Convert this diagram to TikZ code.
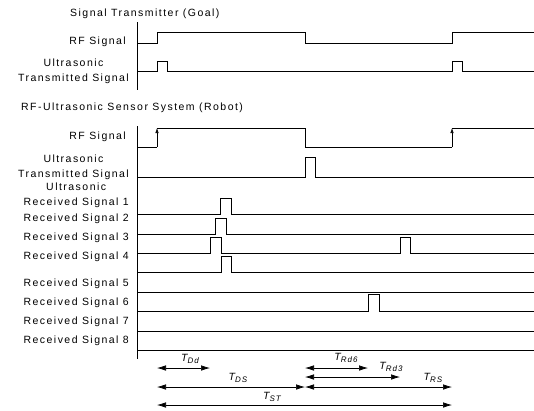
\documentclass[tikz,border=0pt]{standalone}
\usepackage{fontspec}
\setmainfont[LetterSpace=14]{Liberation Sans}
\usetikzlibrary{positioning,arrows.meta}

\newcommand{\tlab}[2]{\textit{#1\raisebox{-0.5ex}{\fontsize{8}{9}\selectfont #2}}}

\begin{document}
\begin{tikzpicture}[x=1pt,y=-1pt,
			every node/.style={
				inner sep=0pt,
				font=\fontsize{10.5}{15}\selectfont},
			lbl/.style={anchor=east,align=center},
			ttl/.style={anchor=west},
			wave/.style={line width=0.65pt},
			span/.style={{Latex[length=9pt,width=5.5pt]}-{Latex[length=9pt,width=5.5pt]},line width=0.65pt},
			edge/.style={-{Latex[length=5pt,width=3.5pt]},line width=0.65pt}]
			
			\useasboundingbox (0,0) rectangle (534,410);
			
			\node[ttl] (goal) at (70,14) {Signal Transmitter (Goal)};
			
			\draw[wave] (137,22) -- (137,90);
			
			\node[lbl] (grf) at (126,42) {RF Signal};
			\draw[wave] (137,43) -- (157,43) -- (157,32) -- (305,32) -- (305,43) -- (452,43) -- (452,32) -- (534,32);
			
			\node[lbl] (gus) at (129,71) {Ultrasonic\\Transmitted Signal};
			\draw[wave] (137,71) -- (157,71) -- (157,61) -- (167,61) -- (167,71) -- (452,71) -- (452,61) -- (462,61) -- (462,71) -- (534,71);
			
			\node[ttl] (robot) at (21,108) {RF-Ultrasonic Sensor System (Robot)};
			
			\draw[wave] (137,126) -- (137,359);
			
			\node[lbl] (rrf) at (126,137) {RF Signal};
			\draw[wave] (137,147) -- (157,147);
			\draw[edge] (157,147) -- (157,128);
			\draw[wave] (157,128) -- (305,128) -- (305,147) -- (452,147);
			\draw[edge] (452,147) -- (452,128);
			\draw[wave] (452,128) -- (534,128);
			
			\node[lbl] (rus) at (129,167) {Ultrasonic\\Transmitted Signal};
			\draw[wave] (137,177) -- (305,177) -- (305,157) -- (315,157) -- (315,177) -- (534,177);
			
			\node[lbl] (rx1) at (129,195.5) {Ultrasonic\\Received Signal 1};
			\draw[wave] (137,214) -- (220,214) -- (220,198) -- (231,198) -- (231,214) -- (534,214);
			
			\node[lbl] (rx2) at (129,219) {Received Signal 2};
			\draw[wave] (137,234) -- (215,234) -- (215,218) -- (226,218) -- (226,234) -- (534,234);
			
			\node[lbl] (rx3) at (129,238) {Received Signal 3};
			\draw[wave] (137,253) -- (210,253) -- (210,237) -- (221,237) -- (221,253) -- (400,253) -- (400,237) -- (410,237) -- (410,253) -- (534,253);
			
			\node[lbl] (rx4) at (129,257) {Received Signal 4};
			\draw[wave] (137,272) -- (221,272) -- (221,256) -- (231,256) -- (231,272) -- (534,272);
			
			\node[lbl] (rx5) at (129,284) {Received Signal 5};
			\draw[wave] (137,292) -- (534,292);
			
			\node[lbl] (rx6) at (129,303) {Received Signal 6};
			\draw[wave] (137,311) -- (368,311) -- (368,294) -- (379,294) -- (379,311) -- (534,311);
			
			\node[lbl] (rx7) at (129,322) {Received Signal 7};
			\draw[wave] (137,331) -- (534,331);
			
			\node[lbl] (rx8) at (129,341) {Received Signal 8};
			\draw[wave] (137,350) -- (534,350);
			
			\coordinate (dd1) at (157,368);
			\coordinate (dd2) at (210,368);
			\coordinate (ds1) at (157,387);
			\coordinate (ds2) at (305,387);
			\coordinate (st1) at (157,405);
			\coordinate (st2) at (452,405);
			\coordinate (r61) at (305,368);
			\coordinate (r62) at (368,368);
			\coordinate (r31) at (305,377);
			\coordinate (r32) at (400,377);
			\coordinate (rs1) at (305,387);
			\coordinate (rs2) at (452,387);
			
			\draw[span] (dd1) -- (dd2);
			\draw[span] (ds1) -- (ds2);
			\draw[span] (st1) -- (st2);
			\draw[span] (r61) -- (r62);
			\draw[span] (r31) -- (r32);
			\draw[span] (rs1) -- (rs2);
			
			\node (tdd) at (190,359) {\tlab{T}{Dd}};
			\node (tds) at (238,378) {\tlab{T}{DS}};
			\node (tst) at (272,397) {\tlab{T}{ST}};
			\node (trd6) at (346,358) {\tlab{T}{Rd6}};
			\node (trd3) at (391,367) {\tlab{T}{Rd3}};
			\node (trs) at (433,378) {\tlab{T}{RS}};
			
		\end{tikzpicture}
\end{document}
